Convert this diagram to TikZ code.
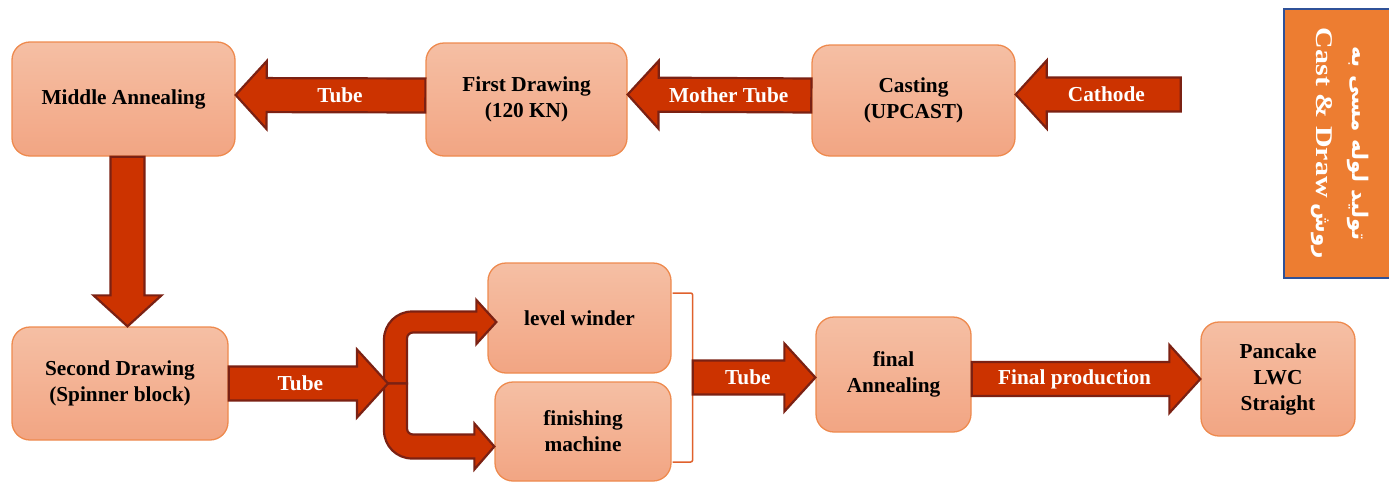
\documentclass[tikz,border=0pt]{standalone}
\usepackage{fontspec}
\setmainfont{Liberation Serif}
\newfontfamily\arabicfont[Script=Arabic]{DejaVu Sans}
\newfontfamily\widefont[FakeStretch=1.25]{Liberation Serif}
\TeXXeTstate=1
\usepackage{tikz}
\usetikzlibrary{positioning, calc}

\definecolor{boxtop}{HTML}{F5BFA4}
\definecolor{boxbot}{HTML}{F2A583}
\definecolor{boxline}{HTML}{EE8A4E}
\definecolor{arrfill}{HTML}{CC3300}
\definecolor{arrline}{HTML}{7B2113}
\definecolor{bracecol}{HTML}{E0612C}
\definecolor{titlefill}{HTML}{ED7D31}
\definecolor{titleline}{HTML}{2F5198}

% block arrow from tail #1 to tip #2
\newcommand{\blkarrow}[2]{%
  \draw[blockarrow] let \p1=(#1), \p2=(#2), \n1={atan2(\y2-\y1,\x2-\x1)}, \n2={veclen(\x2-\x1,\y2-\y1)-31} in
    ($(\p1)+(\n1+90:17pt)$) -- ($(\p1)+(\n1:\n2)+(\n1+90:17pt)$) -- ($(\p1)+(\n1:\n2)+(\n1+90:34pt)$) -- (\p2)
    -- ($(\p1)+(\n1:\n2)+(\n1-90:34pt)$) -- ($(\p1)+(\n1:\n2)+(\n1-90:17pt)$) -- ($(\p1)+(\n1-90:17pt)$) -- cycle;}

\begin{document}
\begin{tikzpicture}[x=1pt,y=-1pt,
  stepbox/.style={draw=boxline, line width=1.3pt, top color=boxtop, bottom color=boxbot, rounded corners=18pt, align=center, font=\fontsize{21.3}{26}\selectfont\bfseries, inner sep=2pt},
  blockarrow/.style={draw=arrline, fill=arrfill, line width=2.2pt, line join=miter},
  arrowtext/.style={text=white, font=\fontsize{21.3}{26}\selectfont\bfseries},
  bracket/.style={draw=bracecol, line width=1.5pt, rounded corners=2pt},
  titlebox/.style={draw=titleline, fill=titlefill, line width=2.5pt, align=center, text=white, minimum width=269pt, minimum height=112pt, inner sep=0pt, font=\fontsize{24}{36}\selectfont\bfseries}]
\useasboundingbox (0,0) rectangle (1389,482);
% boxes
\node[stepbox, minimum width=223pt, minimum height=114pt] (ma) at (123.5,99) {Middle Annealing};
\node[stepbox, minimum width=201pt, minimum height=113pt] (fd) at (526.5,99.5) {First Drawing\\(120 KN)};
\node[stepbox, minimum width=203pt, minimum height=111pt] (cs) at (913.5,100.5) {Casting\\(UPCAST)};
\node[stepbox, minimum width=216pt, minimum height=113pt] (sd) at (120,383.5) {Second Drawing\\(Spinner block)};
\node[stepbox, minimum width=183pt, minimum height=110pt] (lw) at (579.5,318) {level winder};
\node[stepbox, minimum width=176pt, minimum height=99pt] (fm) at (583,431.5) {finishing\\machine};
\node[stepbox, minimum width=155pt, minimum height=115pt] (fa) at (893.5,374.5) {final\\Annealing};
\node[stepbox, minimum width=154pt, minimum height=114pt] (pc) at (1278,379) {Pancake\\LWC\\Straight};
\node[titlebox, rotate=-90] (title) at (1340,143.5) {{\arabicfont\fontsize{21.5}{36}\selectfont\beginR تولید لوله مسی به\endR}\\
  \beginR{\arabicfont\fontsize{21.5}{36}\selectfont روش} \beginL{\widefont Cast \& Draw}\endL\endR};
% top row
\coordinate (ctail) at ([xshift=165pt,yshift=6pt]cs.east);
\blkarrow{ctail}{[yshift=6pt]cs.east}
\node[arrowtext] (t1) at ($(ctail)!0.45!([yshift=6pt]cs.east)$) {Cathode};
\blkarrow{[yshift=5pt]cs.west}{[yshift=5pt]fd.east}
\node[arrowtext] (t2) at ($([yshift=5pt]cs.west)!0.45!([yshift=5pt]fd.east)$) {Mother Tube};
\blkarrow{[yshift=4pt]fd.west}{[yshift=4pt]ma.east}
\node[arrowtext] (t3) at ($([yshift=4pt]fd.west)!0.45!([yshift=4pt]ma.east)$) {Tube};
% down
\coordinate (dtop) at ([xshift=4pt]ma.south);
\coordinate (dbot) at (dtop |- sd.north);
\blkarrow{dtop}{dbot}
% split
\coordinate (sp) at (384,383.5);
\draw[blockarrow] let \p1=(sp), \p2=(lw.west) in
  (\p1) -- (\x1,\y2-21.5pt) arc[start angle=180, end angle=90, radius=28pt] -- (\x2-11pt,\y2+6.5pt) -- (\x2-11pt,\y2+18pt) -- (\x2+9pt,\y2-4pt) -- (\x2-11pt,\y2-26pt) -- (\x2-11pt,\y2-14.5pt) -- (\x1+29pt,\y2-14.5pt) arc[start angle=90, end angle=180, radius=6pt] -- (\x1+23pt,\y1) -- cycle;
\draw[blockarrow] let \p1=(sp), \p3=(fm.west) in
  (\p1) -- (\x1,\y3+1pt) arc[start angle=180, end angle=270, radius=28pt] -- (\x3-20pt,\y3-27pt) -- (\x3-20pt,\y3-38pt) -- (\x3,\y3-15pt) -- (\x3-20pt,\y3+8pt) -- (\x3-20pt,\y3-3pt) -- (\x1+29pt,\y3-3pt) arc[start angle=270, end angle=180, radius=6pt] -- (\x1+23pt,\y1) -- cycle;
\blkarrow{sd.east |- sp}{[xshift=4pt]sp}
\node[arrowtext] (t4) at ($(sd.east |- sp)!0.45!([xshift=4pt]sp)$) {Tube};
% bracket and last arrows
\coordinate (brt) at ([xshift=1pt,yshift=25pt]lw.east);
\coordinate (brb) at ([xshift=1pt,yshift=-30.5pt]fm.east);
\draw[bracket] (brt) -- ++(20,0) |- (brb);
\coordinate (br) at ($($(brt)!0.5!(brb)$)+(20,0)$);
\blkarrow{br}{br -| fa.west}
\node[arrowtext] (t5) at ($(br)!0.45!(br -| fa.west)$) {Tube};
\blkarrow{fa.east |- pc.west}{pc.west}
\node[arrowtext] (t6) at ($(fa.east |- pc.west)!0.45!(pc.west)$) {Final production};
\end{tikzpicture}
\end{document}
